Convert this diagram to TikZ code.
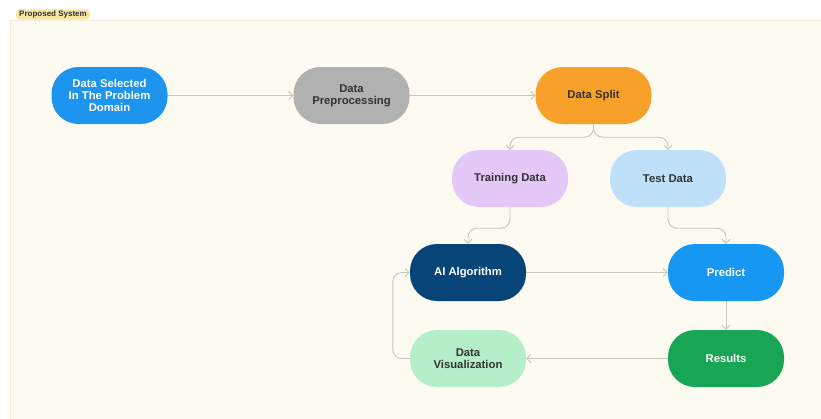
\documentclass[tikz,border=0pt]{standalone}
\usepackage{fontspec}
\setmainfont{Liberation Sans}
\usetikzlibrary{arrows.meta}
\definecolor{bgcream}{HTML}{FDFBF1}
\definecolor{framec}{HTML}{F3EEDC}
\definecolor{tagc}{HTML}{F7E6A2}
\definecolor{edgec}{HTML}{C9C5BD}
\definecolor{cSel}{HTML}{1D95EE}
\definecolor{cPre}{HTML}{B1B1B1}
\definecolor{cSplit}{HTML}{F8A12A}
\definecolor{cTrain}{HTML}{E4C9F8}
\definecolor{cTest}{HTML}{BEE1F9}
\definecolor{cAI}{HTML}{074478}
\definecolor{cPred}{HTML}{1697F4}
\definecolor{cVis}{HTML}{B5EFC9}
\definecolor{cRes}{HTML}{19A654}
\definecolor{txtd}{HTML}{333333}
\begin{document}
\begin{tikzpicture}[x=1pt,y=-1pt,
  box/.style={rounded corners=27pt, minimum width=116pt, minimum height=57pt,
    inner sep=2pt, align=center, font=\fontsize{11.3}{11.8}\selectfont\bfseries, text=txtd},
  lighttext/.style={text=white},
  conn/.style={draw=edgec, line width=0.9pt, -{Straight Barb[length=4pt,width=8pt]}, rounded corners=9pt}]
\useasboundingbox (0,0) rectangle (821,418);
\fill[white] (0,0) rectangle (821,418);
\fill[bgcream, draw=framec] (10,20) rectangle (821,420);
\node[fill=tagc, rounded corners=4pt, inner xsep=3pt, inner ysep=1.5pt, font=\fontsize{8}{9}\selectfont\bfseries, text=txtd] (tag) at (53,14.5) {Proposed System};

\node[box, fill=cSel, lighttext] (sel) at (109.5,95.5) {Data Selected\\In The Problem\\Domain};
\node[box, fill=cPre] (pre) at (351.5,95.5) {Data\\Preprocessing};
\node[box, fill=cSplit] (split) at (593.5,95.5) {Data Split};
\node[box, fill=cTrain] (train) at (510,178.5) {Training Data};
\node[box, fill=cTest] (test) at (668,178.5) {Test Data};
\node[box, fill=cAI, lighttext] (ai) at (468,272.5) {AI Algorithm};
\node[box, fill=cPred, lighttext] (pred) at (726,272.5) {Predict};
\node[box, fill=cVis] (vis) at (468,358.5) {Data\\Visualization};
\node[box, fill=cRes, lighttext] (res) at (726,358.5) {Results};

\draw[conn] (sel) -- (pre);
\draw[conn] (pre) -- (split);
\draw[conn] (split.south) -- ++(0,13) -| (train.north);
\draw[conn] (split.south) -- ++(0,13) -| (test.north);
\draw[conn] (train.south) -- ++(0,21) -| (ai.north);
\draw[conn] (test.south) -- ++(0,21) -| (pred.north);
\draw[conn] (ai) -- (pred);
\draw[conn] (pred) -- (res);
\draw[conn] (res) -- (vis);
\draw[conn] (vis.west) -- ++(-17,0) |- (ai.west);
\end{tikzpicture}
\end{document}
